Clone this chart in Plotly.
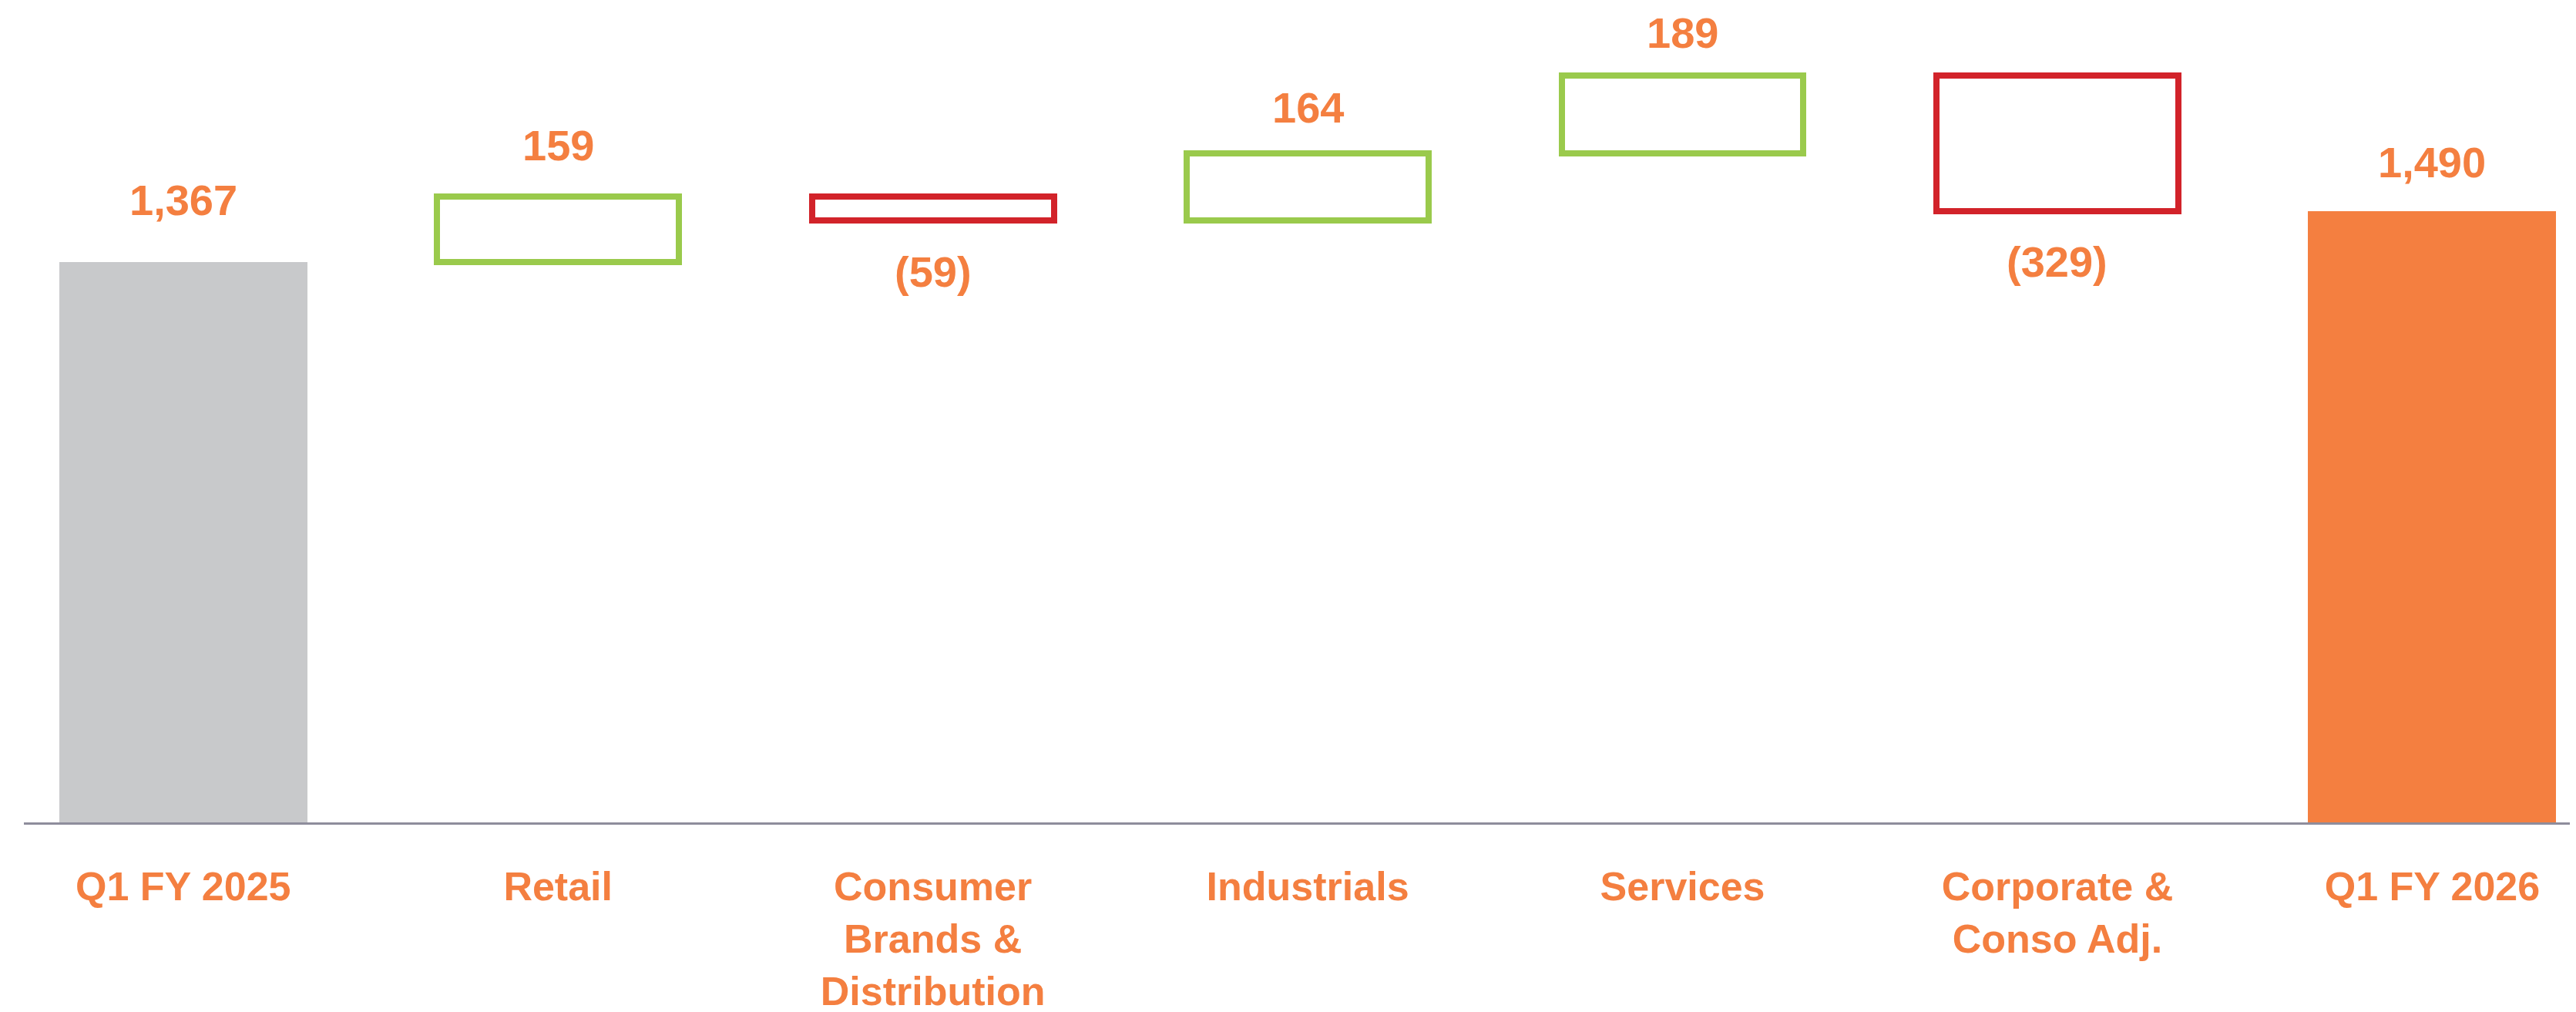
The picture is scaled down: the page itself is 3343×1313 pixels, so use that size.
import numpy as np
import plotly.graph_objects as go

# waterfall data
categories = ["Q1 FY 2025", "Retail", "Consumer<br>Brands &<br>Distribution",
              "Industrials", "Services", "Corporate &<br>Conso Adj.", "Q1 FY 2026"]
start_value = 1367
changes = [159, -59, 164, 189, -329]
end_value = 1490
value_labels = ["1,367", "159", "(59)", "164", "189", "(329)", "1,490"]

orange = "#F47F40"
grey = "#C8C9CB"
green = "#9ACA4C"
red = "#D2232A"
font = "Liberation Sans, Arial, sans-serif"

# bases for the floating bars
cum = start_value + np.cumsum([0] + changes)
bases = cum[:-1]
ends = cum[1:]

inc_idx = [i for i, c in enumerate(changes) if c > 0]
dec_idx = [i for i, c in enumerate(changes) if c < 0]
mid_cats = categories[1:-1]

fig = go.Figure()

fig.add_trace(go.Bar(x=[categories[0]], y=[start_value], marker=dict(color=grey, line=dict(width=0)),
                     width=0.662, hoverinfo="skip"))

fig.add_trace(go.Bar(x=[mid_cats[i] for i in inc_idx], y=[changes[i] for i in inc_idx],
                     base=[bases[i] for i in inc_idx],
                     marker=dict(color="white", line=dict(color=green, width=8)),
                     width=0.645, hoverinfo="skip"))

fig.add_trace(go.Bar(x=[mid_cats[i] for i in dec_idx], y=[changes[i] for i in dec_idx],
                     base=[bases[i] for i in dec_idx],
                     marker=dict(color="white", line=dict(color=red, width=8)),
                     width=0.645, hoverinfo="skip"))

fig.add_trace(go.Bar(x=[categories[-1]], y=[end_value], marker=dict(color=orange, line=dict(width=0)),
                     width=0.662, hoverinfo="skip"))

# value labels: above for totals and increases, below for decreases
label_y = [start_value] + [max(b, e) if c > 0 else min(b, e) for b, e, c in zip(bases, ends, changes)] + [end_value]
label_dir = [1] + [1 if c > 0 else -1 for c in changes] + [1]
label_gap = [80, 66, 66, 60, 56, 66, 64]
for cat, yv, d, g, txt in zip(categories, label_y, label_dir, label_gap, value_labels):
    fig.add_annotation(x=cat, y=yv, text="<b>%s</b>" % txt, showarrow=False,
                       yshift=g * d, yanchor="middle",
                       font=dict(family=font, size=56, color=orange))

fig.update_layout(
    width=3343, height=1313,
    margin=dict(l=23, r=0, t=0, b=254),
    plot_bgcolor="white", paper_bgcolor="white",
    showlegend=False, barmode="overlay", bargap=0,
    xaxis=dict(type="category", categoryorder="array", categoryarray=categories,
               range=[-0.425, 6.40], showline=True, linecolor="#8E8D9C",
               linewidth=3, showgrid=False, zeroline=False, ticks="",
               ticklabelstandoff=36,
               tickfont=dict(family=font, size=52, color=orange),
               tickvals=categories,
               ticktext=["<b>%s</b>" % c.replace("<br>", "</b><br><b>") for c in categories]),
    yaxis=dict(range=[0, 1990], visible=False, showgrid=False, zeroline=False),
)

fig.write_html("out.html")
